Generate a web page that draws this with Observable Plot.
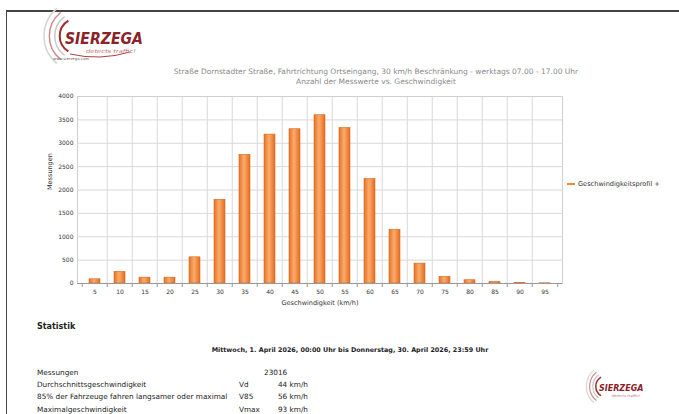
<!DOCTYPE html>
<html>
<head>
<meta charset="utf-8">
<script src="https://cdn.jsdelivr.net/npm/d3@7"></script>
<script src="https://cdn.jsdelivr.net/npm/@observablehq/plot@0.6"></script>
<style>
  html, body { margin: 0; padding: 0; background: #fff; }
  body { width: 679px; height: 414px; position: relative; overflow: hidden; font-family: "DejaVu Sans", sans-serif; }
  .abs { position: absolute; white-space: nowrap; }
  #border { position: absolute; left: 6px; top: 10px; width: 700px; height: 420px; border-left: 1.5px solid #444; border-top: 2px solid #444; box-sizing: border-box; }
  .title { font-size: 7.5px; color: #8a8a8a; text-align: center; width: 600px; left: 76px; }
  .stat { font-size: 7.3px; color: #222; }
  svg.logo { overflow: visible; }
</style>
</head>
<body>
<div id="border"></div>

<svg class="abs logo" style="left:30px;top:12px" width="125" height="50" viewBox="0 0 125 50">
  <g fill="none" stroke-width="1.5">
    <path d="M 38.4 8.6 A 18 18 0 0 0 38.4 39.4" stroke="#a52a2a" stroke-width="2"/>
    <path d="M 34.6 4.6 A 24 24 0 0 0 34.6 43.4" stroke="#c9c9c9"/>
    <path d="M 30.7 0.5 A 30 30 0 0 0 30.7 47.5" stroke="#cf8a8a"/>
    <path d="M 26.9 -3.6 A 36 36 0 0 0 26.9 51.6" stroke="#d5d5d5"/>
    <path d="M 40 42 Q 70 49 100 40" stroke="#b04040" stroke-width="1"/>
  </g>
  <text x="35" y="32" font-family="DejaVu Sans" font-style="italic" font-weight="bold" font-size="15" fill="#8b2228" textLength="78" lengthAdjust="spacingAndGlyphs">SIERZEGA</text>
  <text x="56" y="41" font-family="DejaVu Sans" font-style="italic" font-size="5.5" fill="#c07878" textLength="50" lengthAdjust="spacingAndGlyphs">detects traffic!</text>
  <text x="23" y="47.5" font-family="DejaVu Sans" font-size="3.6" fill="#666" textLength="36" lengthAdjust="spacingAndGlyphs">www.sierzega.com</text>
</svg>

<div class="abs title" style="top:67px">Straße Dornstadter Straße, Fahrtrichtung Ortseingang, 30 km/h Beschränkung - werktags 07.00 - 17.00 Uhr</div>
<div class="abs title" style="top:77px">Anzahl der Messwerte vs. Geschwindigkeit</div>

<div id="chart" class="abs" style="left:0;top:90px"></div>

<div class="abs" style="left:567px;top:180px;font-size:6.6px;color:#333;line-height:8px">
  <span style="display:inline-block;width:8px;height:2px;background:#f08a3a;vertical-align:middle;margin-right:3px"></span>Geschwindigkeitsprofil +
</div>

<div class="abs" style="left:37px;top:322px;font-size:8px;font-weight:bold;color:#222">Statistik</div>
<div class="abs" style="left:0;width:700px;text-align:center;top:346px;font-size:6.4px;font-weight:bold;color:#222">Mittwoch, 1. April 2026, 00:00 Uhr bis Donnerstag, 30. April 2026, 23:59 Uhr</div>
<div id="stats"></div>

<svg class="abs logo" style="left:578px;top:372px" width="75" height="30" viewBox="0 0 125 50">
  <g fill="none" stroke-width="2">
    <path d="M 38.4 8.6 A 18 18 0 0 0 38.4 39.4" stroke="#a52a2a" stroke-width="2.5"/>
    <path d="M 34.6 4.6 A 24 24 0 0 0 34.6 43.4" stroke="#c9c9c9"/>
    <path d="M 30.7 0.5 A 30 30 0 0 0 30.7 47.5" stroke="#cf8a8a"/>
    <path d="M 26.9 -3.6 A 36 36 0 0 0 26.9 51.6" stroke="#d5d5d5"/>
  </g>
  <text x="35" y="31" font-family="DejaVu Sans" font-style="italic" font-weight="bold" font-size="15" fill="#8b2228" textLength="74" lengthAdjust="spacingAndGlyphs">SIERZEGA</text>
  <text x="56" y="41" font-family="DejaVu Sans" font-style="italic" font-size="6" fill="#c07878" textLength="48" lengthAdjust="spacingAndGlyphs">detects traffic!</text>
</svg>

<script>
// ---- data ----
const speeds = [5, 10, 15, 20, 25, 30, 35, 40, 45, 50, 55, 60, 65, 70, 75, 80, 85, 90, 95];
const counts = [90, 250, 125, 125, 560, 1790, 2750, 3185, 3300, 3600, 3325, 2235, 1150, 425, 140, 70, 35, 8, 5];
const yTicks = [0, 500, 1000, 1500, 2000, 2500, 3000, 3500, 4000];
const statLabels = ["Messungen", "Durchschnittsgeschwindigkeit", "85% der Fahrzeuge fahren langsamer oder maximal", "Maximalgeschwindigkeit"];
const statSymbols = ["", "Vd", "V85", "Vmax"];
const statValues = ["23016", "44 km/h", "56 km/h", "93 km/h"];

const data = speeds.map((s, i) => ({speed: s, count: counts[i]}));

const W = 600, H = 220, mL = 77, mR = 38, mT = 6, mB = 27;
const step = (W - mL - mR) / speeds.length;
const plotH = H - mT - mB;

const chart = Plot.plot({
  width: W, height: H,
  marginLeft: mL, marginRight: mR, marginTop: mT, marginBottom: mB,
  style: {fontFamily: "DejaVu Sans", fontSize: "6px", color: "#333", background: "transparent"},
  x: {type: "band", domain: speeds, paddingInner: 0.58, paddingOuter: 0.29, label: null},
  y: {domain: [0, 4000], ticks: yTicks, label: null},
  marks: [
    Plot.gridY(yTicks, {stroke: "#d8d8d8", strokeOpacity: 1, strokeWidth: 1}),
    Plot.ruleX(speeds.slice(1), {x: d => d, dx: -step / 2, stroke: "#d8d8d8", strokeWidth: 1}),
    Plot.frame({stroke: "#d0d0d0"}),
    Plot.ruleX(speeds, {x: d => d, dx: -step / 2, stroke: "#999", insetTop: plotH, insetBottom: -4}),
    Plot.ruleX([speeds[speeds.length - 1]], {x: d => d, dx: step / 2, stroke: "#999", insetTop: plotH, insetBottom: -4}),
    Plot.rectY(data, {x: "speed", y: "count", fill: "url(#barGrad)", stroke: "#d9681f", strokeWidth: 0.6}),
    Plot.ruleY([0], {stroke: "#999", strokeWidth: 1.2}),
    Plot.axisY(yTicks, {tickSize: 0, tickPadding: 4, label: null, fontSize: 6, tickFormat: d3.format("d")}),
    Plot.axisX({tickSize: 0, tickPadding: 6, label: null, fontSize: 6}),
    Plot.text(["Geschwindigkeit (km/h)"], {frameAnchor: "bottom", dy: 21, fontSize: 6.5, fill: "#333"}),
    Plot.text(["Messungen"], {frameAnchor: "left", dx: -28, rotate: -90, fontSize: 6.5, fill: "#333"})
  ]
});

const ns = "http://www.w3.org/2000/svg";
const defs = document.createElementNS(ns, "defs");
defs.innerHTML = `<linearGradient id="barGrad" x1="0" x2="1" y1="0" y2="0">
  <stop offset="0" stop-color="#e37227"/>
  <stop offset="0.45" stop-color="#fbab6c"/>
  <stop offset="0.6" stop-color="#f89a55"/>
  <stop offset="1" stop-color="#e06d22"/>
</linearGradient>`;
chart.insertBefore(defs, chart.firstChild);
document.getElementById("chart").appendChild(chart);

// statistics table
const stats = document.getElementById("stats");
const rowTops = [368, 380, 392, 405];
statLabels.forEach((l, i) => {
  const a = document.createElement("div");
  a.className = "abs stat"; a.style.left = "37px"; a.style.top = rowTops[i] + "px"; a.textContent = l;
  stats.appendChild(a);
  const b = document.createElement("div");
  b.className = "abs stat"; b.style.left = "239px"; b.style.top = rowTops[i] + "px"; b.textContent = statSymbols[i];
  stats.appendChild(b);
  const c = document.createElement("div");
  c.className = "abs stat"; c.style.top = rowTops[i] + "px"; c.textContent = statValues[i];
  if (i === 0) { c.style.left = "264px"; } else { c.style.right = (679 - 308) + "px"; }
  stats.appendChild(c);
});
</script>
</body>
</html>
